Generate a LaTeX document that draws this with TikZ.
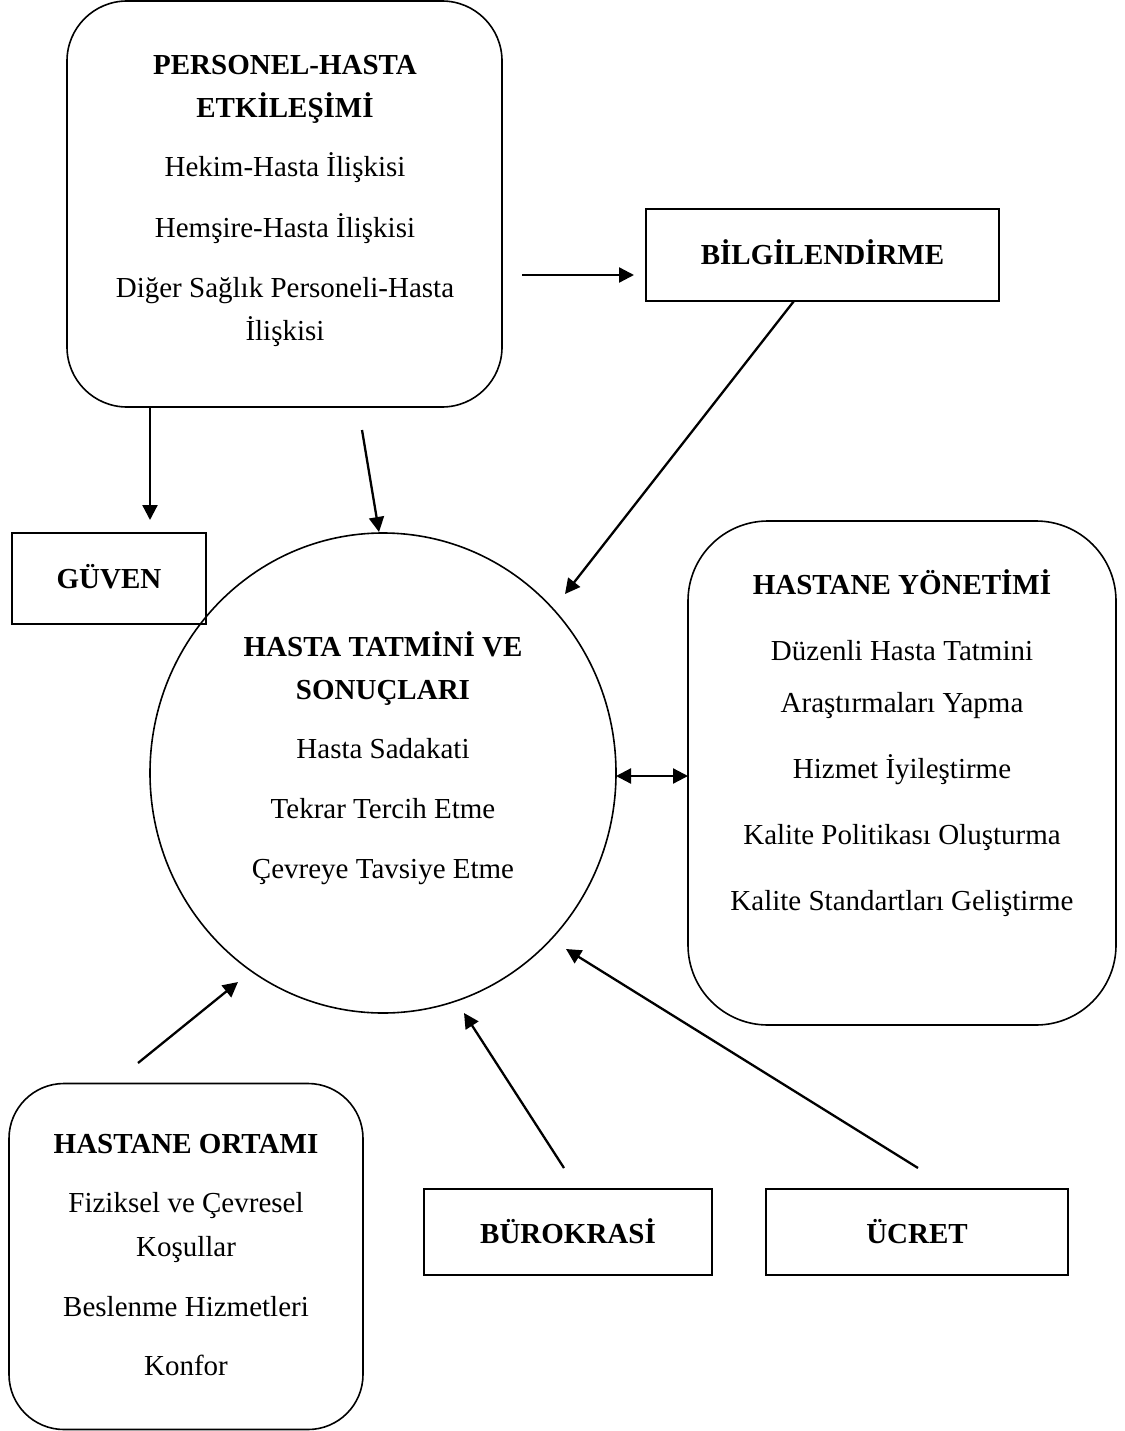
\documentclass[tikz,border=0pt]{standalone}
\usepackage{fontspec}
\setmainfont{Liberation Serif}
\usetikzlibrary{arrows.meta,shapes.geometric}
\begin{document}
\begin{tikzpicture}[x=1pt,y=-1pt,
  boxline/.style={draw=black,line width=1.6pt,inner sep=0pt,outer sep=0pt},
  rbox/.style={boxline,rectangle},
  txt/.style={anchor=base,inner sep=0pt,font=\fontsize{29}{35}\selectfont},
  btxt/.style={txt,font=\fontsize{29}{35}\selectfont\bfseries},
  arr/.style={line width=2.3pt,-{Triangle[length=15pt,width=15pt]}},
  darr/.style={line width=2.3pt,{Triangle[length=15pt,width=15pt]}-{Triangle[length=15pt,width=15pt]}}]
\useasboundingbox (0,0) rectangle (1124,1431);
% boxes
\node[rbox,rounded corners=60pt,minimum width=435pt,minimum height=406pt] (pers) at (284.5,204) {};
\node[rbox,minimum width=353pt,minimum height=92pt] (bilgi) at (822.5,255) {};
\node[rbox,minimum width=194pt,minimum height=91pt] (guven) at (109,578.5) {};
\node[boxline,ellipse,minimum width=466pt,minimum height=480pt] (tatmin) at (383,773) {};
\node[rbox,rounded corners=80pt,minimum width=428pt,minimum height=504pt] (yonetim) at (902,773) {};
\node[rbox,rounded corners=55pt,minimum width=354pt,minimum height=346pt] (ortam) at (186,1256.5) {};
\node[rbox,minimum width=288pt,minimum height=86pt] (buro) at (568,1232) {};
\node[rbox,minimum width=302pt,minimum height=86pt] (ucret) at (917,1232) {};
% texts
\node[btxt] (p1) at (285,75) {PERSONEL-HASTA};
\node[btxt] (p2) at (285,118) {ETKİLEŞİMİ};
\node[txt] (p3) at (285,177) {Hekim-Hasta İlişkisi};
\node[txt] (p4) at (285,237) {Hemşire-Hasta İlişkisi};
\node[txt] (p5) at (285,297) {Diğer Sağlık Personeli-Hasta};
\node[txt] (p6) at (285,340) {İlişkisi};
\node[btxt] (b1) at (822.5,264) {BİLGİLENDİRME};
\node[btxt] (g1) at (109,588) {GÜVEN};
\node[btxt] (t1) at (383,656) {HASTA TATMİNİ VE};
\node[btxt] (t2) at (383,699) {SONUÇLARI};
\node[txt] (t3) at (383,758) {Hasta Sadakati};
\node[txt] (t4) at (383,818) {Tekrar Tercih Etme};
\node[txt] (t5) at (383,878) {Çevreye Tavsiye Etme};
\node[btxt] (y1) at (902,594) {HASTANE YÖNETİMİ};
\node[txt] (y2) at (902,660) {Düzenli Hasta Tatmini};
\node[txt] (y3) at (902,712) {Araştırmaları Yapma};
\node[txt] (y4) at (902,778) {Hizmet İyileştirme};
\node[txt] (y5) at (902,844) {Kalite Politikası Oluşturma};
\node[txt] (y6) at (902,910) {Kalite Standartları Geliştirme};
\node[btxt] (o1) at (186,1153) {HASTANE ORTAMI};
\node[txt] (o2) at (186,1212) {Fiziksel ve Çevresel};
\node[txt] (o3) at (186,1256) {Koşullar};
\node[txt] (o4) at (186,1316) {Beslenme Hizmetleri};
\node[txt] (o5) at (186,1375) {Konfor};
\node[btxt] (bu1) at (568,1243) {BÜROKRASİ};
\node[btxt] (u1) at (917,1243) {ÜCRET};
% connector ends
\coordinate (a1s) at (150,407);
\coordinate (a1e) at (150,520);
\coordinate (a2s) at (362,430);
\coordinate (a2e) at (379,532);
\coordinate (a3s) at (522,275);
\coordinate (a3e) at (634,275);
\coordinate (a4s) at (794,301);
\coordinate (a4e) at (565,594);
\coordinate (a5s) at (616,776);
\coordinate (a5e) at (688,776);
\coordinate (a6s) at (138,1063);
\coordinate (a6e) at (238,982);
\coordinate (a7s) at (564,1168);
\coordinate (a7e) at (464,1013);
\coordinate (a8s) at (918,1168);
\coordinate (a8e) at (566,949);
% connectors
\draw[arr] (a1s) -- (a1e);
\draw[arr] (a2s) -- (a2e);
\draw[arr] (a3s) -- (a3e);
\draw[arr] (a4s) -- (a4e);
\draw[darr] (a5s) -- (a5e);
\draw[arr] (a6s) -- (a6e);
\draw[arr] (a7s) -- (a7e);
\draw[arr] (a8s) -- (a8e);
\end{tikzpicture}
\end{document}
